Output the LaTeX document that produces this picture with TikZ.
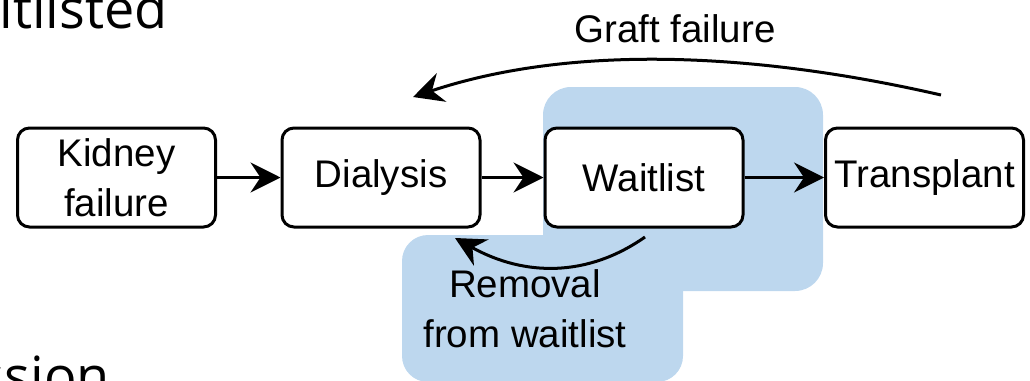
\documentclass[tikz,border=0pt]{standalone}
\usepackage{fontspec}
\setmainfont{Liberation Sans}
\newfontfamily\slidefont{Open Sans}
\usetikzlibrary{arrows.meta}
\definecolor{groupblue}{RGB}{189,215,238}
\begin{document}
\begin{tikzpicture}[x=1pt,y=-1pt,
  stage/.style={draw, line width=3pt, rounded corners=12pt, fill=white,
    minimum width=198pt, minimum height=99pt, inner sep=0pt, align=center,
    font=\fontsize{38.5}{50}\selectfont},
  flow/.style={line width=3pt, -{Stealth[length=30pt,width=30pt,inset=10pt]}},
  lbl/.style={font=\fontsize{38.5}{50}\selectfont, inner sep=0pt, align=center},
  slide/.style={font=\slidefont\fontsize{54}{60}\selectfont, inner sep=0pt}]
\useasboundingbox (0,0) rectangle (1030,380);
\clip (0,0) rectangle (1030,380);

% slide text cut off by the frame
\node[slide, anchor=base east] (top) at (168,28) {Waitlisted};
\node[slide, anchor=base east] (bottom) at (110,395) {Discussion};

% highlighted region behind the waitlist stage
\fill[groupblue, rounded corners=28pt] (543,87) rectangle (823,291);
\fill[groupblue, rounded corners=26pt] (402,235) rectangle (683,382);

% stages
\node[stage] (K) at (116.5,177.5) {Kidney\\failure};
\node[stage] (D) at (381,177.5) {Dialysis};
\node[stage] (W) at (644,177.5) {Waitlist};
\node[stage] (T) at (924.5,177.5) {Transplant};

% forward flow
\draw[flow] (K) -- (D);
\draw[flow] (D) -- (W);
\draw[flow] (W) -- (T);

% graft failure back to dialysis
\coordinate (gs) at (941,95);
\coordinate (ge) at (413,97);
\draw[flow] (gs) .. controls (736,48) and (560,48) .. (ge);
\node[lbl, anchor=base] (gl) at (675,42) {Graft failure};

% removal from the waitlist back to dialysis
\coordinate (rs) at (645,237);
\coordinate (re) at (455,238);
\draw[flow] (rs) .. controls (588,277) and (525,277) .. (re);
\node[lbl] (rl) at (525,309) {Removal\\from waitlist};
\end{tikzpicture}
\end{document}
